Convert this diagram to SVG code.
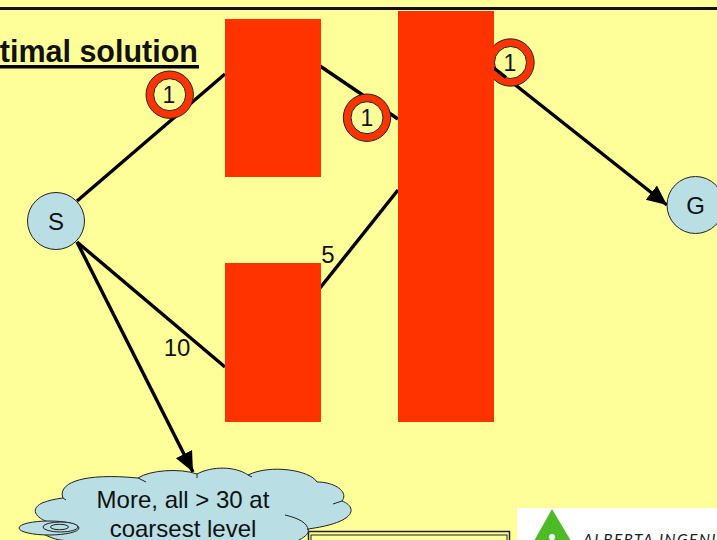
<svg xmlns="http://www.w3.org/2000/svg" width="717" height="540" viewBox="0 0 717 540">
<style>
text{font-family:"Liberation Sans",Arial,sans-serif;fill:#111}
.lb{font-size:24px;text-anchor:middle}
.sm{font-size:23px}
.n{fill:#b9dfe5;stroke:#222;stroke-width:1}
.r{fill:#ff3300}
.e{stroke:#000;stroke-width:3.400;fill:none}
.ring{fill:#ff3300;stroke:#222;stroke-width:1}
.in{fill:#ffff99;stroke:#222;stroke-width:1}
.c{fill:#b9dfe5;stroke:#222;stroke-width:1}
</style>
<defs>
<marker id="ah" markerUnits="userSpaceOnUse" markerWidth="21" markerHeight="20" refX="20" refY="10" orient="auto"><path d="M0 1L20 10L0 19Z" fill="#000"/></marker>
</defs>
<rect width="717" height="540" fill="#ffff99"/>
<rect y="7" width="717" height="3" fill="#111"/>
<g id="title"><text x="198" y="62" text-anchor="end" font-size="30.500" font-weight="bold">timal solution</text><rect x="0" y="65" width="199" height="3.500" fill="#000"/></g>
<g id="connectors">
<path class="e" d="M77 201L225 74"/>
<path class="e" d="M77 242L225 367"/>
<path class="e" d="M320 66L398 119"/>
<path class="e" d="M320 288L398 190"/>
<path class="e" d="M494 68L667 205" marker-end="url(#ah)"/>
<path class="e" d="M77 242L193 472" marker-end="url(#ah)"/>
</g>
<g id="badge3"><circle class="ring" cx="510.500" cy="62.500" r="23.700"/><circle class="in" cx="510.500" cy="62.500" r="16"/><path class="e" d="M494 68L506 77.500"/><text class="lb sm" x="510" y="71">1</text></g>
<g id="node-a"><rect class="r" x="225" y="19" width="96" height="158"/></g>
<g id="node-b"><rect class="r" x="225" y="263" width="96" height="159"/></g>
<g id="node-c"><rect class="r" x="398" y="11" width="96" height="411"/></g>
<g id="badge1"><circle class="ring" cx="169.700" cy="94.700" r="23.700"/><circle class="in" cx="169.700" cy="94.700" r="16"/><text class="lb sm" x="169" y="103">1</text></g>
<g id="badge2"><circle class="ring" cx="367" cy="117.700" r="23.700"/><circle class="in" cx="367" cy="117.700" r="16"/><text class="lb sm" x="367" y="126">1</text></g>
<g id="node-s"><circle class="n" cx="56" cy="221" r="28.500"/><text class="lb" x="56" y="230">S</text></g>
<g id="node-g"><circle class="n" cx="695.500" cy="205" r="28.500"/><text class="lb" x="695.500" y="214">G</text></g>
<text class="lb" x="177" y="356">10</text>
<text class="lb" x="328" y="263">5</text>
<g id="box"><rect x="308.500" y="531.500" width="201" height="20" fill="#ffff99" stroke="#222" stroke-width="1.500"/><rect x="311" y="535" width="196" height="20" fill="#ffff99" stroke="#222" stroke-width="1"/></g>
<g id="cloud">
<path class="c" d="M63 498C58 486 75 472 138 478C150 470 180 468 197 474C212 466 235 466 248 475C270 464 310 470 317 482C335 482 349 492 342 501C356 506 360 522 308 529C310 534 303 538 297 541L87 541C70 542 55 540 50 537C30 530 48 525 52 523C38 520 28 510 42 503C50 500 55 499 63 498Z"/>
<path d="M285 515C298 518 308 523 308 530" fill="none" stroke="#222"/>
<path d="M63 498L66 500M138 478L146 482M197 474L197 478M248 475L252 477M342 501L333 504" fill="none" stroke="#222"/>
<ellipse class="c" cx="49" cy="528" rx="30" ry="7"/>
<ellipse class="c" cx="60.500" cy="527" rx="17.500" ry="5"/>
<ellipse class="c" cx="59.500" cy="527" rx="9" ry="2.700"/>
<text class="lb" x="183" y="508">More, all &gt; 30 at</text>
<text class="lb" x="183" y="537">coarsest level</text>
</g>
<g id="logo">
<rect x="517" y="508" width="200" height="32" fill="#fff"/>
<path d="M552 509L571 541H534Z" fill="#4dbb25"/>
<circle cx="552" cy="537" r="3" fill="#fff"/>
<text x="583" y="545" font-size="15.500" font-style="italic" letter-spacing="1.500" style="font-family:Lato,sans-serif;fill:#222">ALBERTA INGENU</text>
</g>
</svg>
